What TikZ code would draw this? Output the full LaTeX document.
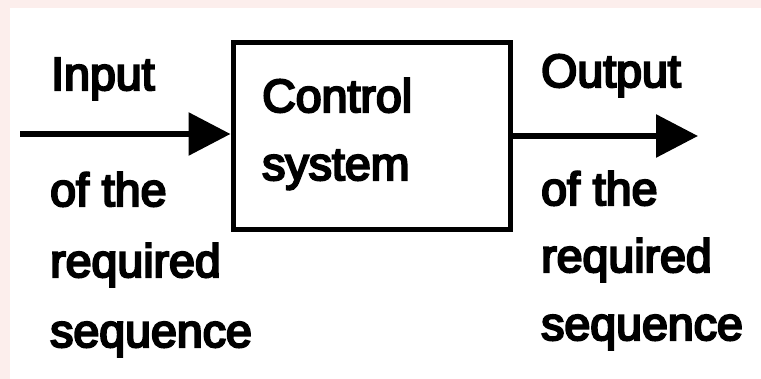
\documentclass[tikz,border=0pt]{standalone}
\usepackage{fontspec}
\newfontfamily\scanfont{Liberation Sans}
\usetikzlibrary{arrows.meta}
\definecolor{edgepink}{RGB}{252,238,236}
\newcommand\heavytext[1]{\special{pdf:literal direct 2 Tr 2.2 w}#1\special{pdf:literal direct 0 Tr}}
\tikzset{
  lbl/.style={anchor=base west, inner sep=0pt, font=\scanfont\fontsize{46.5}{54}\selectfont},
  blk/.style={draw, line width=5pt, minimum width=277pt, minimum height=187pt, inner sep=0pt},
  sig/.style={line width=6pt, -{Triangle[length=42pt,width=42pt]}}
}
\begin{document}
\begin{tikzpicture}[x=1pt,y=-1pt]
\useasboundingbox (0,0) rectangle (761,379);
\fill[edgepink] (0,0) rectangle (761,8);
\fill[edgepink] (0,0) rectangle (10,379);
\node[blk] (box) at (371.5,136.5) {};
\node[lbl] (ctrl1) at (262,112) {\heavytext{Control}};
\node[lbl] (ctrl2) at (262,180) {\heavytext{system}};
\node[lbl] (in1) at (51,90) {\heavytext{Input}};
\node[lbl] (in2) at (50,206) {\heavytext{of the}};
\node[lbl] (in3) at (50,277) {\heavytext{required}};
\node[lbl] (in4) at (50,347) {\heavytext{sequence}};
\node[lbl] (out1) at (541,87) {\heavytext{Output}};
\node[lbl] (out2) at (541,205) {\heavytext{of the}};
\node[lbl] (out3) at (541,272) {\heavytext{required}};
\node[lbl] (out4) at (541,340) {\heavytext{sequence}};
\coordinate (src) at (20,134);
\coordinate (dst) at (698,136);
\draw[sig] (src) -- (src -| box.west);
\draw[sig] (dst -| box.east) -- (dst);
\end{tikzpicture}
\end{document}
